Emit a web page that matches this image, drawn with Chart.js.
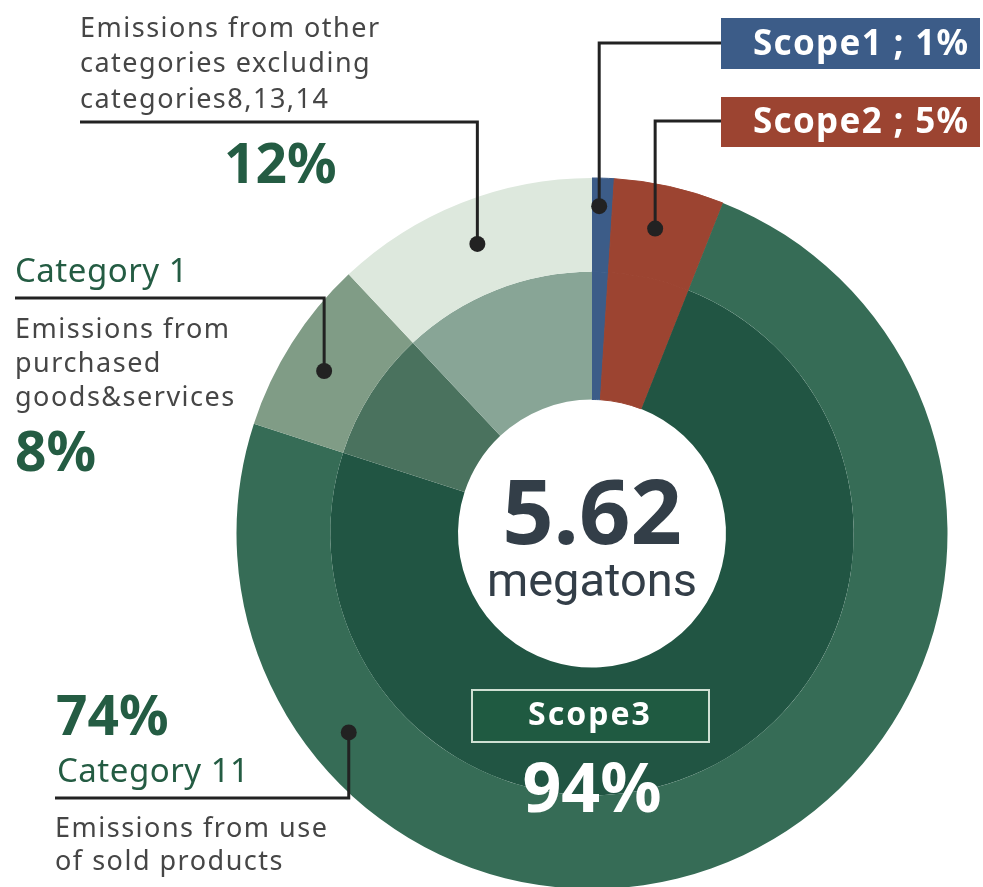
<!DOCTYPE html>
<html>
<head>
<meta charset="utf-8">
<script src="https://cdn.jsdelivr.net/npm/chart.js@4.4.1/dist/chart.umd.min.js"></script>
<style>
  html, body { margin: 0; padding: 0; background: #ffffff; overflow: hidden; }
  #wrap { position: absolute; left: 0; top: 0; width: 983px; height: 892px; }
</style>
</head>
<body>
<div id="wrap"><canvas id="scopeChart" width="983" height="892"></canvas></div>
<script>
// Chart data (share of total emissions, %)
const categories = ['Scope1', 'Scope2', 'Category 11', 'Category 1', 'Other categories'];
const shares = [1, 5, 74, 8, 12];
const scope3Share = 94;
const totalMegatons = '5.62';

// outer ring / inner ring colours per slice
const outerColors = ['#3c5c88', '#9c4431', '#366c56', '#809c86', '#dde8dd'];
const innerColors = ['#3c5c88', '#9c4431', '#215543', '#4a725e', '#88a596'];
// scope1/scope2 run through both rings, a hairline border hides the seam
const seamWidths = [1, 1, 0, 0, 0];

const green = '#245c43';
const grayText = '#464646';
const bodyFont = '"Noto Sans", "Open Sans", sans-serif';
const narrowFont = 'Roboto, "Noto Sans", sans-serif';

// leader lines: slice index, position along the arc, position across the ring, elbow y, end x
const leaders = [
    { index: 0, along: 0.35, across: 0.7, elbowY: 43, endX: 721 },
    { index: 1, along: 0.45, across: 0.53, elbowY: 121, endX: 721 },
    { index: 2, along: 0.785, across: 0.56, elbowY: 798, endX: 55 },
    { index: 3, along: 0.46, across: 0.55, elbowY: 298, endX: 15 },
    { index: 4, along: 0.5, across: 0.53, elbowY: 122, endX: 80 }
];

function drawText(ctx, text, x, y, font, color, align, spacing) {
    ctx.save();
    ctx.font = font;
    ctx.fillStyle = color;
    ctx.textAlign = align || 'left';
    ctx.textBaseline = 'alphabetic';
    if ('letterSpacing' in ctx) ctx.letterSpacing = (spacing || 0) + 'px';
    ctx.fillText(text, x, y);
    ctx.restore();
}

const annotationPlugin = {
    id: 'annotations',
    afterDraw(chart) {
        const ctx = chart.ctx;
        const arcs = chart.getDatasetMeta(0).data;

        // leader lines with dots
        ctx.save();
        ctx.strokeStyle = '#222222';
        ctx.fillStyle = '#222222';
        ctx.lineWidth = 3;
        leaders.forEach(l => {
            const arc = arcs[l.index];
            const p = arc.getProps(['x', 'y', 'startAngle', 'endAngle', 'innerRadius', 'outerRadius']);
            const a = p.startAngle + (p.endAngle - p.startAngle) * l.along;
            const r = p.innerRadius + (p.outerRadius - p.innerRadius) * l.across;
            const dx = p.x + Math.cos(a) * r;
            const dy = p.y + Math.sin(a) * r;
            ctx.beginPath();
            ctx.moveTo(dx, dy);
            ctx.lineTo(dx, l.elbowY);
            ctx.lineTo(l.endX, l.elbowY);
            ctx.stroke();
            ctx.beginPath();
            ctx.arc(dx, dy, 8, 0, Math.PI * 2);
            ctx.fill();
        });
        ctx.restore();

        // scope1 / scope2 boxes
        ctx.fillStyle = outerColors[0];
        ctx.fillRect(721, 18, 259, 51);
        ctx.fillStyle = outerColors[1];
        ctx.fillRect(721, 97, 259, 50);
        drawText(ctx, categories[0] + ' ; ' + shares[0] + '%', 753, 55, 'bold 35px ' + bodyFont, '#ffffff', 'left', 1.3);
        drawText(ctx, categories[1] + ' ; ' + shares[1] + '%', 753, 133, 'bold 35px ' + bodyFont, '#ffffff', 'left', 1.3);

        // other categories
        const gray = '27px ' + bodyFont;
        const sp = 1.5;
        drawText(ctx, 'Emissions from other', 80, 37, gray, grayText, 'left', sp);
        drawText(ctx, 'categories excluding', 80, 72, gray, grayText, 'left', sp);
        drawText(ctx, 'categories8,13,14', 80, 108, gray, grayText, 'left', sp);
        drawText(ctx, shares[4] + '%', 224, 183, 'bold 55px ' + bodyFont, green);

        // category 1
        drawText(ctx, categories[3], 15, 282, '33px ' + bodyFont, green, 'left', 0.5);
        drawText(ctx, 'Emissions from', 15, 338, gray, grayText, 'left', sp);
        drawText(ctx, 'purchased', 15, 372, gray, grayText, 'left', sp);
        drawText(ctx, 'goods&services', 15, 406, gray, grayText, 'left', sp);
        drawText(ctx, shares[3] + '%', 15, 471, 'bold 55px ' + bodyFont, green);

        // category 11
        drawText(ctx, shares[2] + '%', 56, 735, 'bold 55px ' + bodyFont, green);
        drawText(ctx, categories[2], 57, 782, '33px ' + bodyFont, green, 'left', 0.5);
        drawText(ctx, 'Emissions from use', 55, 837, gray, grayText, 'left', sp);
        drawText(ctx, 'of sold products', 55, 870, gray, grayText, 'left', sp);

        // centre total
        const cx = arcs[0].x;
        drawText(ctx, totalMegatons, cx, 544, 'bold 90px ' + bodyFont, '#333e48', 'center');
        drawText(ctx, 'megatons', cx, 596, '47px ' + narrowFont, '#333e48', 'center');

        // scope3 box
        ctx.save();
        ctx.fillStyle = '#1f5a41';
        ctx.fillRect(471, 689, 239, 54);
        ctx.strokeStyle = '#cfe0d3';
        ctx.lineWidth = 2;
        ctx.strokeRect(472, 690, 237, 52);
        ctx.restore();
        drawText(ctx, 'Scope3', 590, 725, 'bold 32px ' + bodyFont, '#ffffff', 'center', 2);
        drawText(ctx, scope3Share + '%', cx, 812, 'bold 68px ' + bodyFont, '#ffffff', 'center');
    }
};

const ctx = document.getElementById('scopeChart').getContext('2d');
new Chart(ctx, {
    type: 'doughnut',
    data: {
        labels: categories,
        datasets: [
            { data: shares, backgroundColor: outerColors, borderColor: outerColors, borderWidth: seamWidths, weight: 94 },
            { data: shares, backgroundColor: innerColors, borderColor: innerColors, borderWidth: seamWidths, weight: 128 }
        ]
    },
    options: {
        responsive: false,
        animation: false,
        events: [],
        cutout: 134,
        hoverOffset: 0,
        offset: 0,
        layout: { padding: { left: 236, top: 177, right: 35, bottom: 2 } },
        plugins: {
            legend: { display: false },
            tooltip: { enabled: false }
        }
    },
    plugins: [annotationPlugin]
});
</script>
</body>
</html>
